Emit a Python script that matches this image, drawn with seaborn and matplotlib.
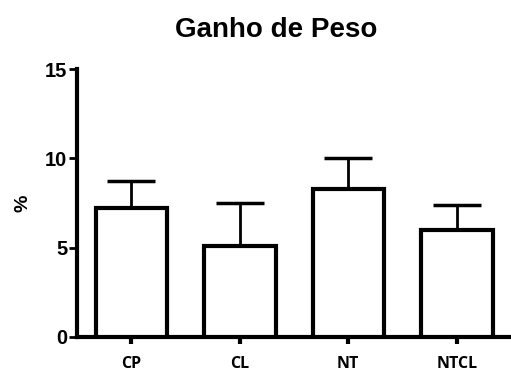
import numpy as np
import pandas as pd
import seaborn as sns
import matplotlib.pyplot as plt

# values
groups = ["CP", "CL", "NT", "NTCL"]
means = [7.2, 5.1, 8.3, 6.0]
sem = [1.5, 2.4, 1.7, 1.4]

df = pd.DataFrame({"grupo": groups, "ganho": means})

sns.set_style("ticks")
plt.rcParams["font.family"] = ["Liberation Sans", "DejaVu Sans"]
plt.rcParams["font.weight"] = "bold"
plt.rcParams["text.color"] = "black"
plt.rcParams["xtick.color"] = "black"
plt.rcParams["ytick.color"] = "black"
plt.rcParams["axes.labelcolor"] = "black"

fig = plt.figure(figsize=(5.11, 3.73), dpi=100)
ax = fig.add_axes([0.151, 0.097, 0.849, 0.718])

sns.barplot(data=df, x="grupo", y="ganho", color="white", edgecolor="black",
            linewidth=3, width=0.66, errorbar=None, ax=ax, zorder=3)

x = np.arange(len(groups))
ax.errorbar(x, means, yerr=[np.zeros(len(sem)), sem], fmt="none", ecolor="black",
            elinewidth=2, capsize=17, capthick=2.5, zorder=2)

ax.set_xlim(-0.5, 3.5)
ax.set_ylim(0, 15)
ax.set_yticks([0, 5, 10, 15])
ax.set_xlabel("")
ax.set_ylabel("%", fontsize=14, fontweight="bold", labelpad=10)
fig.text(0.54, 0.92, "Ganho de Peso", fontsize=20, fontweight="bold",
         ha="center", va="center")

for s in ["top", "right"]:
    ax.spines[s].set_visible(False)
for s in ["left", "bottom"]:
    ax.spines[s].set_linewidth(3)
    ax.spines[s].set_color("black")
ax.tick_params(axis="y", width=2, length=6, labelsize=14.5, pad=1)
ax.tick_params(axis="x", width=3, length=5, pad=9)
for lab in ax.get_yticklabels():
    lab.set_fontweight("bold")
for lab in ax.get_xticklabels():
    lab.set_fontweight("bold")
    lab.set_family(["Open Sans", "DejaVu Sans"])
    lab.set_fontsize(11.5)

fig.savefig("out.png", dpi=100)
